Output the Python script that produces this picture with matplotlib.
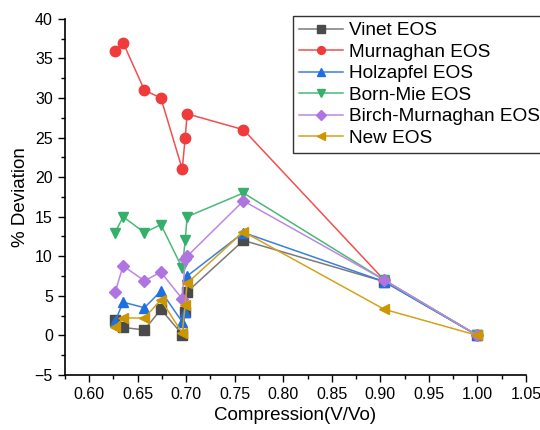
import matplotlib.pyplot as plt
from matplotlib.ticker import MultipleLocator

plt.rcParams['font.family'] = ['Liberation Sans', 'DejaVu Sans']

# Compression points (V/Vo)
x = [0.627, 0.635, 0.657, 0.674, 0.696, 0.699, 0.701, 0.759, 0.904, 1.0]

# % deviation per EOS
vinet = [2.0, 1.0, 0.7, 3.3, 0.1, 3.0, 5.5, 12.0, 6.8, 0.0]
murnaghan = [36.0, 37.0, 31.0, 30.0, 21.0, 25.0, 28.0, 26.0, 7.0, 0.0]
holzapfel = [1.8, 4.2, 3.5, 5.6, 1.7, 3.0, 7.5, 13.0, 6.8, 0.0]
born_mie = [13.0, 15.0, 13.0, 14.0, 8.5, 12.0, 15.0, 18.0, 7.0, 0.0]
birch = [5.5, 8.8, 6.9, 8.0, 4.6, 9.6, 10.0, 17.0, 7.0, 0.0]
new_eos = [1.1, 2.2, 2.2, 4.5, 0.3, 3.9, 6.6, 13.1, 3.3, 0.0]

series = [
    ("Vinet EOS", vinet, 's', '#4a4a4a', '#7a7a7a'),
    ("Murnaghan EOS", murnaghan, 'o', '#ef3b3b', '#f05050'),
    ("Holzapfel EOS", holzapfel, '^', '#1e6fe0', '#3a7fe0'),
    ("Born-Mie EOS", born_mie, 'v', '#35b06a', '#4cb878'),
    ("Birch-Murnaghan EOS", birch, 'D', '#b074e0', '#bb88e4'),
    ("New EOS", new_eos, '<', '#cc9600', '#d4a21c'),
]

fig = plt.figure(figsize=(5.4, 4.3), dpi=100)
ax = fig.add_axes([0.12, 0.128, 0.854, 0.828])

for label, vals, mk, mc, lc in series:
    ms = 6.2 if mk == 'D' else 7.5
    ax.plot(x, vals, color=lc, lw=1.1, marker=mk, markersize=ms,
            markerfacecolor=mc, markeredgecolor=mc, label=label)

ax.set_xlim(0.575, 1.05)
ax.set_ylim(-5, 40)
ax.xaxis.set_major_locator(MultipleLocator(0.05))
ax.xaxis.set_minor_locator(MultipleLocator(0.025))
ax.yaxis.set_major_locator(MultipleLocator(5))
ax.yaxis.set_minor_locator(MultipleLocator(2.5))
ax.xaxis.set_major_formatter(plt.FormatStrFormatter('%.2f'))
ax.tick_params(axis='both', which='major', direction='out', length=5, width=1, labelsize=11.5)
ax.tick_params(axis='both', which='minor', direction='out', length=3, width=1)
ax.spines['top'].set_visible(False)
ax.spines['right'].set_visible(False)
for s in ('left', 'bottom'):
    ax.spines[s].set_linewidth(1.2)

ax.set_xlabel('Compression(V/Vo)', fontsize=13.5)
ax.set_ylabel('% Deviation', fontsize=13.5)

leg = ax.legend(loc='upper left', bbox_to_anchor=(0.543, 0.962), bbox_transform=fig.transFigure,
                fontsize=13.7, frameon=True, fancybox=False, edgecolor='black',
                handlelength=2.3, handletextpad=0.35, labelspacing=0.22, borderpad=0.3,
                borderaxespad=0, markerscale=0.75)
leg.get_frame().set_linewidth(1.0)

fig.savefig('out.png', dpi=100)
